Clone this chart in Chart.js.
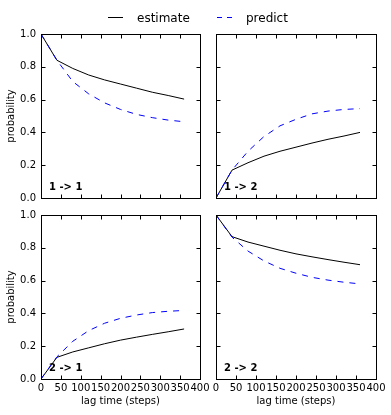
<!DOCTYPE html>
<html>
<head>
<meta charset="utf-8">
<script src="https://cdn.jsdelivr.net/npm/chart.js@4/dist/chart.umd.min.js"></script>
<style>
  html, body { margin: 0; padding: 0; background: #fff; }
  #wrap { position: relative; width: 391px; height: 415px; overflow: hidden; background: #fff; }
  #wrap canvas { position: absolute; left: 0; top: 0; }
  .lg-text { position: absolute; top: 11.5px; font: 12px/12px "DejaVu Sans", sans-serif; color: #000; white-space: nowrap; }
  .lg-line { position: absolute; }
</style>
</head>
<body>
<div id="wrap">
  <canvas id="c0" width="391" height="415"></canvas>
  <canvas id="c1" width="391" height="415"></canvas>
  <canvas id="c2" width="391" height="415"></canvas>
  <canvas id="c3" width="391" height="415"></canvas>
  <svg class="lg-line" style="left:108px;top:12px" width="16" height="11"><line x1="0" y1="5.5" x2="15" y2="5.5" stroke="#000" stroke-width="1"/></svg>
  <div class="lg-text" style="left:137px">estimate</div>
  <svg class="lg-line" style="left:217px;top:12px" width="18" height="11"><line x1="0" y1="5.5" x2="17" y2="5.5" stroke="#0000ff" stroke-width="1" stroke-dasharray="5 5"/></svg>
  <div class="lg-text" style="left:246px">predict</div>
</div>
<script>
// ---- data ----
const lagTimes = [0, 40, 80, 120, 160, 200, 240, 280, 320, 360];
const estimate11 = [1.0, 0.84, 0.79, 0.75, 0.72, 0.695, 0.67, 0.645, 0.625, 0.603];
const predict11  = [1.0, 0.84, 0.71, 0.635, 0.58, 0.54, 0.51, 0.49, 0.475, 0.465];
const estimate12 = [0.0, 0.17, 0.215, 0.255, 0.285, 0.31, 0.335, 0.358, 0.378, 0.40];
const predict12  = [0.0, 0.17, 0.285, 0.375, 0.44, 0.48, 0.513, 0.53, 0.54, 0.545];
const estimate21 = [0.0, 0.132, 0.165, 0.19, 0.215, 0.237, 0.255, 0.272, 0.288, 0.305];
const predict21  = [0.0, 0.135, 0.23, 0.295, 0.34, 0.37, 0.39, 0.405, 0.413, 0.418];
const estimate22 = [1.0, 0.868, 0.835, 0.81, 0.785, 0.763, 0.745, 0.728, 0.712, 0.697];
const predict22  = [1.0, 0.865, 0.78, 0.72, 0.675, 0.645, 0.62, 0.603, 0.59, 0.58];
const panelLabels = ['1 -> 1', '1 -> 2', '2 -> 1', '2 -> 2'];
const xTickValues = [0, 50, 100, 150, 200, 250, 300, 350, 400];
const yTickValues = [0.0, 0.2, 0.4, 0.6, 0.8, 1.0];
const xTitle = 'lag time (steps)';
const yTitle = 'probability';
const labelAt = { x: 20, y: 0.05 };

Chart.defaults.font.family = '"DejaVu Sans", sans-serif';
Chart.defaults.font.size = 10;
Chart.defaults.color = '#000';

const decor = {
  id: 'decor',
  afterDraw(chart, args, opts) {
    const ctx = chart.ctx;
    const ca = chart.chartArea;
    const xs = chart.scales.x, ys = chart.scales.y;
    const L = Math.round(ca.left) + 0.5, R = Math.round(ca.right) + 0.5;
    const T = Math.round(ca.top) + 0.5, B = Math.round(ca.bottom) + 0.5;
    ctx.save();
    ctx.strokeStyle = '#000';
    ctx.lineWidth = 1;
    ctx.beginPath();
    xTickValues.forEach(v => {
      const p = Math.round(xs.getPixelForValue(v)) + 0.5;
      ctx.moveTo(p, B); ctx.lineTo(p, B - 4);
      ctx.moveTo(p, T); ctx.lineTo(p, T + 4);
    });
    yTickValues.forEach(v => {
      const p = Math.round(ys.getPixelForValue(v)) + 0.5;
      ctx.moveTo(L, p); ctx.lineTo(L + 4, p);
      ctx.moveTo(R, p); ctx.lineTo(R - 4, p);
    });
    ctx.stroke();
    ctx.strokeRect(L, T, R - L, B - T);
    ctx.font = 'bold 10px "DejaVu Sans", sans-serif';
    ctx.fillStyle = '#000';
    ctx.textAlign = 'left';
    ctx.textBaseline = 'alphabetic';
    ctx.fillText(opts.label, xs.getPixelForValue(labelAt.x), ys.getPixelForValue(labelAt.y));
    ctx.restore();
  }
};

function toPoints(vals) { return lagTimes.map((t, i) => ({ x: t, y: vals[i] })); }

function makePanel(id, label, est, pred, showX, showY, padding) {
  new Chart(document.getElementById(id), {
    type: 'line',
    data: {
      datasets: [
        { label: 'predict', data: toPoints(pred), borderColor: '#0000ff', borderWidth: 1, borderDash: [6, 6], pointRadius: 0, tension: 0, fill: false },
        { label: 'estimate', data: toPoints(est), borderColor: '#000000', borderWidth: 1, pointRadius: 0, tension: 0, fill: false }
      ]
    },
    options: {
      responsive: false,
      devicePixelRatio: 1,
      animation: false,
      events: [],
      layout: { padding },
      plugins: { legend: { display: false }, tooltip: { enabled: false }, decor: { label } },
      scales: {
        x: {
          type: 'linear', min: 0, max: 400, display: showX,
          grid: { display: false, drawTicks: false }, border: { display: false },
          ticks: { stepSize: 50, padding: 3, autoSkip: false, maxRotation: 0, minRotation: 0, color: '#000', font: { size: 10 } },
          title: { display: showX, text: xTitle, color: '#000', font: { size: 10 }, padding: { top: 0, bottom: 7.5 } },
          afterFit(s) { if (showX) s.height = 36; }
        },
        y: {
          type: 'linear', min: 0, max: 1, display: showY,
          grid: { display: false, drawTicks: false }, border: { display: false },
          ticks: { stepSize: 0.2, padding: 5, color: '#000', font: { size: 10 }, callback: v => Number(v).toFixed(1) },
          title: { display: showY, text: yTitle, color: '#000', font: { size: 10 }, padding: { top: 5.5, bottom: 0 } },
          afterFit(s) { if (showY) s.width = 41; }
        }
      }
    },
    plugins: [decor]
  });
}

makePanel('c0', panelLabels[0], estimate11, predict11, false, true,  { left: 0,   right: 191, top: 34,  bottom: 217 });
makePanel('c1', panelLabels[1], estimate12, predict12, false, false, { left: 216, right: 15,  top: 34,  bottom: 217 });
makePanel('c2', panelLabels[2], estimate21, predict21, true,  true,  { left: 0,   right: 191, top: 215, bottom: 0 });
makePanel('c3', panelLabels[3], estimate22, predict22, true,  false, { left: 216, right: 15,  top: 215, bottom: 0 });
</script>
</body>
</html>
